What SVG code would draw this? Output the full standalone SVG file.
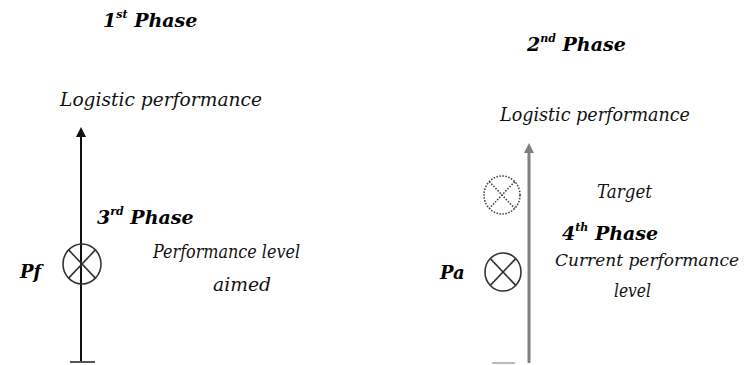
<svg xmlns="http://www.w3.org/2000/svg" width="745" height="365" viewBox="0 0 745 365">
<style>
.ph { font-family: "DejaVu Serif", "Liberation Serif", serif; font-weight: bold; font-style: italic; font-size: 19px; fill: #000; }
.sup { font-size: 11px; }
.lbl { font-family: "DejaVu Serif", "Liberation Serif", serif; font-style: italic; font-size: 19px; fill: #111; }
.bold { font-family: "DejaVu Serif", "Liberation Serif", serif; font-weight: bold; font-style: italic; font-size: 18px; fill: #000; }
.sym { fill: none; stroke: #333; stroke-width: 1.6; }
.symd { fill: none; stroke: #444; stroke-width: 1.6; stroke-dasharray: 1.5 1.5; }
</style>

<g id="connectors">
<line x1="81" y1="362" x2="81" y2="137" stroke="#111" stroke-width="2"/>
<path d="M76,137 L81,127 L86,137 Z" fill="#111"/>
<line x1="70" y1="362" x2="95" y2="362" stroke="#555" stroke-width="2"/>
<line x1="529" y1="363" x2="529" y2="153" stroke="#808080" stroke-width="3"/>
<path d="M524,153 L529,143 L534,153 Z" fill="#808080"/>
<line x1="492" y1="363" x2="515" y2="363" stroke="#bbb" stroke-width="2"/>
</g>

<g id="phase1">
<text class="ph" x="103" y="27">1<tspan class="sup" dy="-9">st</tspan><tspan dy="9"> Phase</tspan></text>
</g>
<g id="phase2">
<text class="ph" x="527" y="51">2<tspan class="sup" dy="-9">nd</tspan><tspan dy="9"> Phase</tspan></text>
</g>

<g id="left-axis-label">
<text class="lbl" x="60" y="106" textLength="202" lengthAdjust="spacingAndGlyphs">Logistic performance</text>
</g>
<g id="right-axis-label">
<text class="lbl" x="500" y="121" textLength="190" lengthAdjust="spacingAndGlyphs">Logistic performance</text>
</g>

<g id="phase3">
<text class="ph" x="97" y="224">3<tspan class="sup" dy="-9">rd</tspan><tspan dy="9"> Phase</tspan></text>
</g>

<g id="pf-node">
<text class="bold" x="20" y="278">Pf</text>
<ellipse class="sym" cx="82" cy="264" rx="19" ry="20"/>
<line class="sym" x1="68.6" y1="249.9" x2="95.4" y2="278.1"/>
<line class="sym" x1="95.4" y1="249.9" x2="68.6" y2="278.1"/>
</g>
<g id="pf-label">
<text class="lbl" x="153" y="258" textLength="147" lengthAdjust="spacingAndGlyphs">Performance level</text>
<text class="lbl" x="213" y="291" textLength="58" lengthAdjust="spacingAndGlyphs">aimed</text>
</g>

<g id="target-node">
<ellipse class="symd" cx="502" cy="195" rx="18" ry="19"/>
<line class="symd" x1="489.3" y1="181.6" x2="514.7" y2="208.4"/>
<line class="symd" x1="514.7" y1="181.6" x2="489.3" y2="208.4"/>
<text class="lbl" x="597" y="198" textLength="55" lengthAdjust="spacingAndGlyphs">Target</text>
</g>

<g id="phase4">
<text class="ph" x="562" y="240">4<tspan class="sup" dy="-9">th</tspan><tspan dy="9"> Phase</tspan></text>
</g>

<g id="pa-node">
<text class="bold" x="440" y="279">Pa</text>
<ellipse class="sym" cx="503" cy="272" rx="18" ry="19"/>
<line class="sym" x1="490.3" y1="258.6" x2="515.7" y2="285.4"/>
<line class="sym" x1="515.7" y1="258.6" x2="490.3" y2="285.4"/>
<text class="lbl" x="555" y="266" style="font-size:17px" textLength="184" lengthAdjust="spacingAndGlyphs">Current performance</text>
<text class="lbl" x="614" y="297" textLength="37" lengthAdjust="spacingAndGlyphs">level</text>
</g>
</svg>
